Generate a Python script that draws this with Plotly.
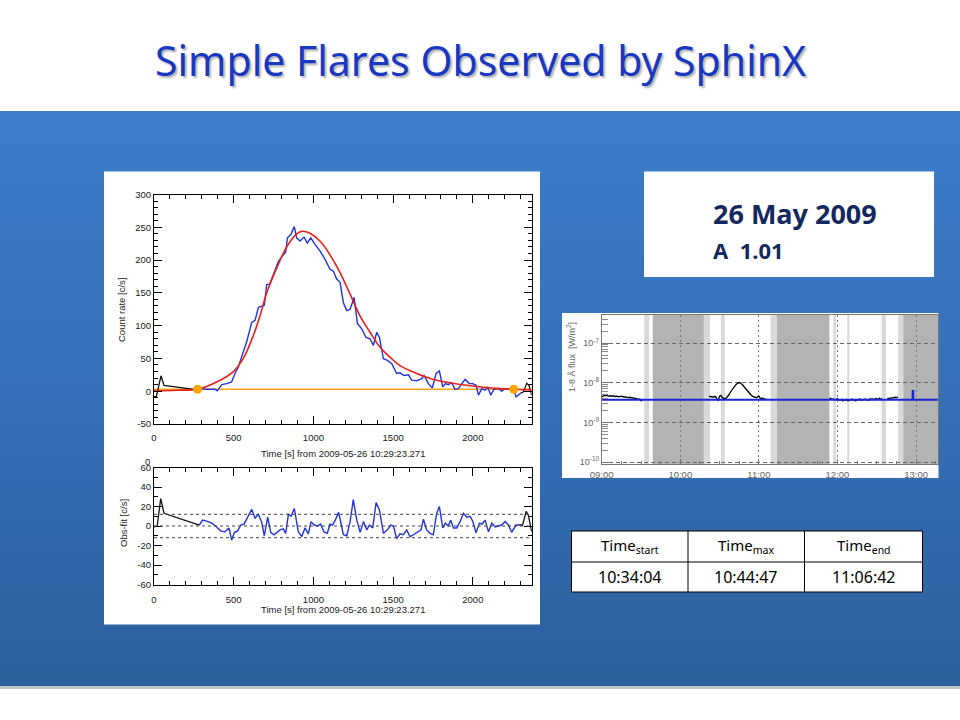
import base64
import plotly.graph_objects as go

W, H = 960, 720
def px(x): return x / W
def py(y): return 1 - y / H

# ---------------- DATA ----------------
# SphinX light curve, top panel (time in s from 2009-05-26 10:29:23.271)
fit_t = [0, 140, 274, 393, 498, 560, 623, 665, 707, 770, 832, 895, 930, 978, 1041,
         1104, 1167, 1230, 1292, 1355, 1418, 1480, 1543, 1648, 1752, 1857, 1961,
         2066, 2170, 2369]
fit_v = [0.5, 1.5, 3, 14, 30, 50, 85, 115, 150, 188, 220, 240, 244, 241, 229,
         208, 181, 148, 115, 90, 67, 52, 39, 27, 18, 13, 9, 6, 4, 2]

obs_t = [274, 305, 330, 362, 383, 397, 425, 456, 487, 508, 529, 560, 581, 613, 634,
         655, 680, 692, 707, 725, 749, 780, 811, 826, 837, 858, 880, 895, 916, 941,
         962, 983, 1010, 1041, 1073, 1104, 1125, 1146, 1167, 1188, 1209, 1230, 1255,
         1276, 1303, 1330, 1355, 1376, 1397, 1414, 1439, 1464, 1491, 1522, 1543, 1568,
         1596, 1616, 1648, 1679, 1694, 1721, 1746, 1769, 1790, 1811, 1828, 1846, 1867,
         1888, 1909, 1930, 1951, 1978, 1999, 2020, 2035, 2056, 2077, 2093, 2112, 2133,
         2160, 2181, 2202, 2233, 2256, 2271, 2292, 2300]
obs_v = [2, 3.5, 3, 3, 3, 0.5, 10, 11.6, 14, 27, 37, 60, 75, 105, 108,
         128, 130, 131, 163, 163, 178, 198, 208, 212, 234, 239, 251, 234, 229, 235,
         226, 234, 224, 214, 201, 186, 183, 171, 166, 135, 123, 125, 143,
         103, 95, 82, 80, 70, 90, 82, 49.5, 47, 42, 27, 28, 24,
         25, 17, 16, 19, 24, 11.6, 5, 27, 31, 6.6, 11.6, 10, 13,
         3, 4, 11.6, 18, 11.6, 11.6, 9, -6, 4, 1.5, 6.6, -6, 3,
         4, 0, 4, 4, 3, -8.6, -3.5, -3]

pre_t = [0, 15, 44, 63, 274]
pre_v = [-8.5, -8, 23.5, 8.7, 2]
post_t = [2300, 2317, 2338, 2352, 2369]
post_v = [-3, -1, 12, 9, -6]

bg_t = [0, 2369]
bg_v = [3, 3]
mark_t = [274, 2256]
mark_v = [3, 3]

# residuals (obs - fit), bottom panel
res_t = [284, 305, 330, 362, 393, 418, 445, 470, 487, 505, 525, 545, 565, 613, 634,
         655, 675, 692, 713, 732, 753, 790, 811, 826, 843, 860, 880, 905, 926, 947,
         968, 985, 1005, 1024, 1045, 1066, 1087, 1104, 1120, 1137, 1158, 1188, 1209,
         1230, 1250, 1272, 1293, 1314, 1335, 1351, 1372, 1393, 1414, 1439, 1464, 1485,
         1502, 1522, 1543, 1564, 1585, 1606, 1627, 1658, 1675, 1690, 1710, 1731, 1752,
         1773, 1790, 1811, 1828, 1845, 1861, 1878, 1899, 1920, 1941, 1962, 1983, 2000,
         2020, 2041, 2058, 2077, 2098, 2119, 2140, 2160, 2181, 2202, 2223, 2243, 2270,
         2290]
res_v = [1, 6, 5, 3, -1, -5, -6, -2, -14.5, -6.5, -5, 1, 2, 17, 8,
         12, 4, -10, 9, -6.5, -9, -4, -3, -7.5, 12, 10, 18, -6, -11, -2,
         -8, 4.5, 1, 0, 2, -6, -7.5, 2, 1, 6, 14, -9, -10,
         4.5, 27, 6, -6.5, 4.5, -4, 1, -2, 24, 16.5, -7.5, -4, 1,
         0, -13, -8, -9, -4, -11, -9, -6, -4, 7, -4, -7.5, -9,
         13, 20, -2, 3, 0, 6, -2, -2, 4.5, 13, 9, 10, 4.5,
         -7, 3, 2, 6, -6, 3, -1, 0, 1, 4.5, 1, -6.5, 1,
         1]
res_pre_t = [0, 20, 42, 63, 284]
res_pre_v = [-1, 0, 28, 13, 1]
res_post_t = [2290, 2312, 2334, 2348, 2369]
res_post_v = [1, 1, 15, 11, -6]
sigma_lines = [0, 12, -12]

# GOES 1-8 A flux (units of 1e-9 W/m^2)
day = "2009-05-26 "
goes1_t = ["09:%02d" % m for m in range(0, 32)]
goes1_f = [4.4, 4.6, 4.8, 4.7, 4.8, 4.6, 4.7, 4.7, 4.6, 4.7, 4.5, 4.6, 4.6, 4.4, 4.5, 4.6,
           4.4, 4.5, 4.3, 4.4, 4.2, 4.3, 4.3, 4.1, 4.2, 4.0, 4.1, 3.9, 3.8, 3.9, 3.5, 3.6]
goes2_t = ["10:%02d" % m for m in range(22, 60)] + ["11:%02d" % m for m in range(0, 7)]
goes2_f = [4.6, 4.4, 4.5, 4.3, 4.5, 4.4, 3.9, 3.6, 4.6, 4.8, 4.2, 4.0, 4.0, 4.1, 4.4, 4.9,
           5.6, 6.3, 7.0, 7.8, 8.6, 9.3, 9.9, 10.1, 9.8, 9.3, 8.5, 7.7, 7.0, 6.3, 5.7, 5.2,
           4.9, 4.6, 4.4, 4.3, 4.2, 4.4, 4.6, 4.1, 4.0, 4.1, 3.8, 3.9, 3.7]
goes3_t = ["11:%02d" % m for m in range(54, 60)] + ["12:%02d" % m for m in range(0, 47)]
goes3_f = [4.2, 4.0, 3.8, 3.9, 3.7, 3.8, 4.0, 3.7, 3.6, 3.8, 3.5, 3.7, 3.6, 3.8, 3.5, 3.7,
           3.6, 3.9, 3.6, 3.7, 3.5, 3.8, 3.7, 3.9, 3.6, 3.8, 3.7, 3.9, 3.7, 3.8, 3.6, 4.0,
           3.8, 3.9, 3.7, 4.0, 3.9, 3.8, 4.1, 3.8, 4.0, None, None, None, 4.0, 4.1, 3.9,
           4.2, 4.1, 4.2, 4.3, 4.2, 4.4]
base_t = ["09:00:00", "12:57:20", "12:57:25", "12:57:50", "12:57:55", "13:17:00"]
base_f = [3.75, 3.75, 6.2, 6.2, 3.75, 3.75]

dark_bands = [("09:39:00", "10:18:00"), ("11:13:50", "11:53:50"), ("12:50:10", "13:17:00")]
light_bands = [("09:32:30", "09:36:20"), ("10:18:00", "10:22:40"), ("10:31:00", "10:34:00"),
               ("11:09:00", "11:13:50"), ("11:56:50", "11:58:50"), ("12:07:30", "12:09:00"),
               ("12:33:40", "12:37:00"), ("12:46:20", "12:50:10")]

table_head = ["Time<sub>start</sub>", "Time<sub>max</sub>", "Time<sub>end</sub>"]
table_vals = ["10:34:04", "10:44:47", "11:06:42"]

# ---------------- FIGURE ----------------
fig = go.Figure()
shapes = []
ann = []

# slide background: smooth vertical gradient as an SVG image
svg = ('<svg xmlns="http://www.w3.org/2000/svg" width="960" height="575" preserveAspectRatio="none">'
       '<defs><linearGradient id="g" x1="0" y1="0" x2="0" y2="1">'
       '<stop offset="0" stop-color="#3d7dca"/><stop offset="0.5" stop-color="#3570b7"/>'
       '<stop offset="1" stop-color="#2c5e9c"/></linearGradient></defs>'
       '<rect width="960" height="575" fill="url(#g)"/></svg>')
src = "data:image/svg+xml;base64," + base64.b64encode(svg.encode()).decode()
fig.add_layout_image(dict(source=src, xref="paper", yref="paper", x=0, y=py(111),
                          sizex=1, sizey=py(111) - py(686), sizing="stretch",
                          xanchor="left", yanchor="top", layer="below"))
shapes.append(dict(type="rect", xref="paper", yref="paper", x0=0, x1=1,
                   y0=py(689), y1=py(686), fillcolor="rgba(120,120,120,0.45)",
                   line_width=0, layer="below"))

# white panels
for (x0, y0, x1, y1) in [(104, 171.5, 540, 624.5), (644, 171.5, 934, 277),
                         (562, 313, 938.5, 478), (571.5, 531, 922.5, 592)]:
    shapes.append(dict(type="rect", xref="paper", yref="paper", x0=px(x0), x1=px(x1),
                       y0=py(y1), y1=py(y0), fillcolor="white", line_width=0, layer="below"))

# gray bands in GOES panel
for (a, b) in dark_bands:
    shapes.append(dict(type="rect", xref="x3", yref="y3 domain", x0=day + a, x1=day + b,
                       y0=0, y1=1, fillcolor="#b3b3b3", line_width=0, layer="below"))
for (a, b) in light_bands:
    shapes.append(dict(type="rect", xref="x3", yref="y3 domain", x0=day + a, x1=day + b,
                       y0=0, y1=1, fillcolor="#d9d9d9", line_width=0, layer="below"))

# residual reference lines
for s in sigma_lines:
    shapes.append(dict(type="line", xref="x2 domain", yref="y2", x0=0, x1=1, y0=s, y1=s,
                       line=dict(color="#444", width=1, dash="dot")))

# table grid
tx = [571.5, 688, 804.5, 922.5]
ty = [531, 562, 592]
for x in tx:
    shapes.append(dict(type="line", xref="paper", yref="paper", x0=px(x), x1=px(x),
                       y0=py(ty[-1]), y1=py(ty[0]), line=dict(color="black", width=1)))
for y in ty:
    shapes.append(dict(type="line", xref="paper", yref="paper", x0=px(tx[0]), x1=px(tx[-1]),
                       y0=py(y), y1=py(y), line=dict(color="black", width=1)))

# ----- traces: top panel
fig.add_trace(go.Scatter(x=bg_t, y=bg_v, mode="lines", line=dict(color="#ffa620", width=1.6),
                         xaxis="x", yaxis="y", showlegend=False))
fig.add_trace(go.Scatter(x=obs_t, y=obs_v, mode="lines", line=dict(color="#2233dd", width=1.4),
                         xaxis="x", yaxis="y", showlegend=False))
fig.add_trace(go.Scatter(x=pre_t, y=pre_v, mode="lines", line=dict(color="#111", width=1.3),
                         xaxis="x", yaxis="y", showlegend=False))
fig.add_trace(go.Scatter(x=post_t, y=post_v, mode="lines", line=dict(color="#111", width=1.3),
                         xaxis="x", yaxis="y", showlegend=False))
fig.add_trace(go.Scatter(x=fit_t, y=fit_v, mode="lines", line=dict(color="#e8201a", width=1.6, shape="spline"),
                         xaxis="x", yaxis="y", showlegend=False))
fig.add_trace(go.Scatter(x=mark_t, y=mark_v, mode="markers", marker=dict(color="#ffa500", size=9),
                         xaxis="x", yaxis="y", showlegend=False))

# ----- bottom panel
fig.add_trace(go.Scatter(x=res_t, y=res_v, mode="lines", line=dict(color="#2233dd", width=1.4),
                         xaxis="x2", yaxis="y2", showlegend=False))
fig.add_trace(go.Scatter(x=res_pre_t, y=res_pre_v, mode="lines", line=dict(color="#111", width=1.3),
                         xaxis="x2", yaxis="y2", showlegend=False))
fig.add_trace(go.Scatter(x=res_post_t, y=res_post_v, mode="lines", line=dict(color="#111", width=1.3),
                         xaxis="x2", yaxis="y2", showlegend=False))

# ----- GOES panel
for tt, ff in [(goes1_t, goes1_f), (goes2_t, goes2_f), (goes3_t, goes3_f)]:
    fig.add_trace(go.Scatter(x=[day + t for t in tt], y=[None if f is None else f * 1e-9 for f in ff],
                             mode="lines", line=dict(color="black", width=1.3),
                             connectgaps=False, xaxis="x3", yaxis="y3", showlegend=False))
fig.add_trace(go.Scatter(x=[day + t for t in base_t], y=[f * 1e-9 for f in base_f], mode="lines",
                         line=dict(color="#1428d8", width=2), xaxis="x3", yaxis="y3", showlegend=False))

# ---------------- AXES ----------------
axfont = dict(family="Liberation Sans, Arial, sans-serif", size=9.5, color="#1a1a1a")
common = dict(showline=True, linecolor="black", linewidth=1, mirror="ticks", ticks="inside",
              tickcolor="black", tickwidth=1, showgrid=False, zeroline=False, tickfont=axfont,
              automargin=False)

xdom = [px(154), px(531.7)]
fig.update_layout(
    xaxis=dict(domain=xdom, anchor="y", range=[0, 2369], tickvals=[0, 500, 1000, 1500, 2000],
               ticktext=["0", "500", "1000", "1500", "2000"], ticklen=8, ticklabelstandoff=5,
               minor=dict(ticks="inside", ticklen=4, tickvals=list(range(100, 2400, 100)), tickcolor="black"),
               **common),
    yaxis=dict(domain=[py(424), py(194.5)], anchor="x", range=[-50, 300],
               tickvals=[-50, 0, 50, 100, 150, 200, 250, 300],
               ticktext=["-50", "0", "50", "100", "150", "200", "250", "300"], ticklen=8,
               minor=dict(ticks="inside", ticklen=4, tickvals=list(range(-40, 300, 10)), tickcolor="black"),
               **common),
    xaxis2=dict(domain=xdom, anchor="y2", range=[0, 2369], tickvals=[0, 500, 1000, 1500, 2000],
                ticktext=["0", "500", "1000", "1500", "2000"], ticklen=8, ticklabelstandoff=6,
                minor=dict(ticks="inside", ticklen=4, tickvals=list(range(100, 2400, 100)), tickcolor="black"),
                **common),
    yaxis2=dict(domain=[py(584.5), py(467.5)], anchor="x2", range=[-60, 60],
                tickvals=[-60, -40, -20, 0, 20, 40, 60],
                ticktext=["-60", "-40", "-20", "0", "20", "40", "60"], ticklen=8,
                minor=dict(ticks="inside", ticklen=4, tickvals=list(range(-50, 60, 20)), tickcolor="black"),
                **common),
    xaxis3=dict(domain=[px(601.7), px(938)], anchor="y3", type="date",
                range=[day + "09:00:00", day + "13:16:45"],
                tickvals=[day + "09:00", day + "10:00", day + "11:00", day + "12:00", day + "13:00"],
                ticktext=["09:00", "10:00", "11:00", "12:00", "13:00"],
                showline=True, linecolor="#777", linewidth=1, mirror=True, ticks="inside",
                ticklen=5, tickcolor="#777", showgrid=True, gridcolor="#777", griddash="2px,3px",
                gridwidth=1, zeroline=False, ticklabelstandoff=2, automargin=False,
                tickfont=dict(family="Liberation Sans, Arial, sans-serif", size=9.5, color="#666"),
                minor=dict(ticks="inside", ticklen=3, tickcolor="#777",
                           tickvals=[day + "%02d:%02d" % (h, m) for h in range(9, 14) for m in (15, 30, 45)])),
    yaxis3=dict(domain=[py(464), py(315)], anchor="x3", type="log", range=[-10.05, -6.29],
                tickvals=[1e-10, 1e-9, 1e-8, 1e-7],
                ticktext=["10<sup>-10</sup>", "10<sup>-9</sup>", "10<sup>-8</sup>", "10<sup>-7</sup>"],
                showline=True, linecolor="#777", linewidth=1, mirror=True, ticks="inside",
                ticklen=8, tickcolor="#777", showgrid=True, gridcolor="#666", griddash="4px,3px",
                gridwidth=1, zeroline=False, automargin=False,
                tickfont=dict(family="Liberation Sans, Arial, sans-serif", size=9, color="#666"),
                minor=dict(ticks="inside", ticklen=6, tickcolor="#888",
                           tickvals=[k * 10.0 ** e for e in range(-10, -6) for k in range(2, 10)])),
)

# ---------------- TEXT ----------------
tfont = dict(family="Liberation Sans, Arial, sans-serif", size=9.5, color="#1a1a1a")
ann.append(dict(x=px(342.5), y=py(453.5), text="Time [s] from 2009-05-26 10:29:23.271", font=tfont))
ann.append(dict(x=px(342.5), y=py(609.5), text="Time [s] from 2009-05-26 10:29:23.271", font=tfont))
ann.append(dict(x=px(121), y=py(310), text="Count rate [c/s]", textangle=-90, font=tfont))
ann.append(dict(x=px(123), y=py(523), text="Obs-fit [c/s]", textangle=-90, font=tfont))
ann.append(dict(x=px(147), y=py(461.5), text="0", font=tfont))
ann.append(dict(x=px(571), y=py(357), text="1-8 Å flux  [W/m<sup>2</sup>]", textangle=-90,
                font=dict(family="Liberation Sans, Arial, sans-serif", size=9, color="#666")))

# title
ann.append(dict(x=px(480), y=py(60), text="Simple Flares Observed by SphinX",
                font=dict(family="Noto Sans", size=41, color="#1838c4", shadow="2px 2px 2px rgba(0,0,0,0.3)")))

# date box
ann.append(dict(x=px(711), y=py(213), xanchor="left", text="<b>26 May 2009</b>",
                font=dict(family="Noto Sans", size=27, color="#13285c")))
ann.append(dict(x=px(711), y=py(250), xanchor="left", text="<b>A  1.01</b>",
                font=dict(family="Noto Sans", size=22, color="#13285c")))

# table text
for i in range(3):
    cx = (tx[i] + tx[i + 1]) / 2
    ann.append(dict(x=px(cx), y=py(546), text=table_head[i],
                    font=dict(family="Noto Sans", size=15, color="black")))
    ann.append(dict(x=px(cx), y=py(577), text=table_vals[i],
                    font=dict(family="Noto Sans", size=16, color="black")))

for a in ann:
    a.setdefault("xref", "paper")
    a.setdefault("yref", "paper")
    a.setdefault("showarrow", False)
    a.setdefault("xanchor", "center")
    a.setdefault("yanchor", "middle")

fig.update_layout(width=W, height=H, margin=dict(l=0, r=0, t=0, b=0, pad=0, autoexpand=False),
                  paper_bgcolor="white", plot_bgcolor="rgba(0,0,0,0)",
                  shapes=shapes, annotations=ann, showlegend=False)

fig.write_html("out.html", config={"displayModeBar": False},
               post_script="document.body.style.margin='0';document.body.style.overflow='hidden';")
